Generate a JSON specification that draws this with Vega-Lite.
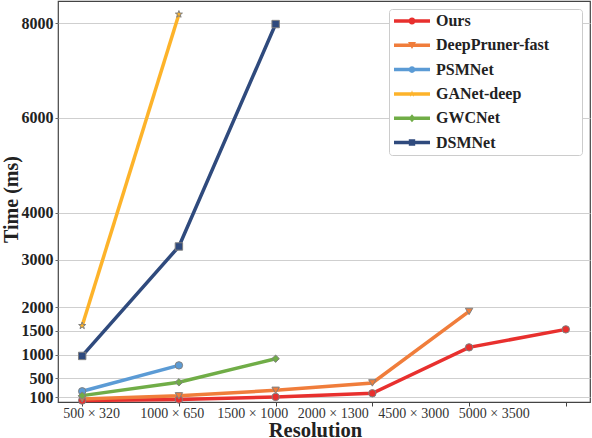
{
  "$schema": "https://vega.github.io/schema/vega-lite/v6.json",
  "width": 532,
  "height": 401,
  "autosize": "none",
  "padding": {"left": 58, "top": 1, "right": 2, "bottom": 36},
  "background": "white",
  "config": {
    "view": {"stroke": "#444444", "strokeWidth": 1.2},
    "font": "Liberation Serif"
  },
  "data": {
    "values": [
      {"model": "Ours", "idx": 0, "ms": 30},
      {"model": "Ours", "idx": 1, "ms": 52},
      {"model": "Ours", "idx": 2, "ms": 107},
      {"model": "Ours", "idx": 3, "ms": 184},
      {"model": "Ours", "idx": 4, "ms": 1154},
      {"model": "Ours", "idx": 5, "ms": 1534},
      {"model": "DeepPruner-fast", "idx": 0, "ms": 65},
      {"model": "DeepPruner-fast", "idx": 1, "ms": 130},
      {"model": "DeepPruner-fast", "idx": 2, "ms": 247},
      {"model": "DeepPruner-fast", "idx": 3, "ms": 403},
      {"model": "DeepPruner-fast", "idx": 4, "ms": 1913},
      {"model": "PSMNet", "idx": 0, "ms": 226},
      {"model": "PSMNet", "idx": 1, "ms": 774},
      {"model": "GANet-deep", "idx": 0, "ms": 1612},
      {"model": "GANet-deep", "idx": 1, "ms": 8190},
      {"model": "GWCNet", "idx": 0, "ms": 135},
      {"model": "GWCNet", "idx": 1, "ms": 416},
      {"model": "GWCNet", "idx": 2, "ms": 915},
      {"model": "DSMNet", "idx": 0, "ms": 973},
      {"model": "DSMNet", "idx": 1, "ms": 3285},
      {"model": "DSMNet", "idx": 2, "ms": 7983}
    ]
  },
  "encoding": {
    "x": {
      "field": "idx",
      "type": "quantitative",
      "scale": {"domain": [-0.25, 5.25], "nice": false, "zero": false},
      "axis": {
        "values": [0, 1, 2, 3, 4, 5],
        "labelExpr": "['500 × 320','1000 × 650','1500 × 1000','2000 × 1300','4500 × 3000','5000 × 3500'][datum.value]",
        "grid": false,
        "domain": false,
        "ticks": true,
        "tickSize": 4,
        "tickColor": "#444444",
        "labelFont": "Liberation Serif",
        "labelFontSize": 14,
        "labelColor": "#333333",
        "labelPadding": 0,
        "labelFlush": false,
        "labelOverlap": false,
        "labelOffset": {"expr": "9 - 16.2*datum.value"},
        "title": "Resolution",
        "titleFont": "Liberation Serif",
        "titleFontSize": 20.5,
        "titleFontWeight": "bold",
        "titleColor": "#222222",
        "titleX": 257,
        "titleY": 34.5,
        "titleBaseline": "alphabetic",
        "titleAlign": "center"
      }
    },
    "y": {
      "field": "ms",
      "type": "quantitative",
      "scale": {"domain": [0, 8470], "nice": false, "zero": false},
      "axis": {
        "values": [100, 500, 1000, 1500, 2000, 3000, 4000, 6000, 8000],
        "format": "d",
        "grid": true,
        "gridColor": "#cfcfcf",
        "gridWidth": 1,
        "domain": false,
        "ticks": true,
        "tickSize": 3,
        "tickColor": "#666666",
        "labelFont": "Liberation Serif",
        "labelFontSize": 16,
        "labelFontWeight": "bold",
        "labelColor": "#222222",
        "labelPadding": 2,
        "labelOverlap": false,
        "title": "Time (ms)",
        "titleFont": "Liberation Serif",
        "titleFontSize": 20,
        "titleFontWeight": "bold",
        "titleColor": "#222222",
        "titleX": -41,
        "titleY": 198,
        "titleAngle": 270,
        "titleAlign": "center",
        "titleBaseline": "alphabetic"
      }
    },
    "color": {
      "field": "model",
      "type": "nominal",
      "scale": {
        "domain": ["Ours", "DeepPruner-fast", "PSMNet", "GANet-deep", "GWCNet", "DSMNet"],
        "range": ["#e8302e", "#f07d3b", "#5b9bd5", "#fdb32a", "#70ad47", "#2f4a7d"]
      }
    }
  },
  "layer": [
    {
      "mark": {"type": "line", "strokeWidth": 3.5, "strokeCap": "butt"},
      "encoding": {
        "detail": {"field": "model"},
        "color": {
          "field": "model",
          "type": "nominal",
          "scale": {
            "domain": ["Ours", "DeepPruner-fast", "PSMNet", "GANet-deep", "GWCNet", "DSMNet"],
            "range": ["#e8302e", "#f07d3b", "#5b9bd5", "#fdb32a", "#70ad47", "#2f4a7d"]
          },
          "legend": {
            "title": null,
            "orient": "top-right",
            "offset": 8,
            "padding": 4,
            "fillColor": "white",
            "strokeColor": "#cccccc",
            "cornerRadius": 3,
            "symbolSize": 256,
            "rowPadding": 8.3,
            "labelOffset": 27,
            "labelFont": "Liberation Serif",
            "labelFontSize": 16,
            "labelFontWeight": "bold",
            "labelColor": "#222222",
            "labelLimit": 300,
            "encode": {
              "labels": {
                "update": {
                  "text": {"signal": "datum.label + '\u00a0\u00a0\u00a0\u00a0\u00a0\u00a0\u00a0\u200b'"}
                }
              },
              "symbols": {
                "update": {
                  "shape": {"signal": "datum.value === 'Ours' ? 'M-0.875,-0.22H3.625V0.22H-0.875Z M1.815,0A0.44,0.44 0 1,1 0.935,0A0.44,0.44 0 1,1 1.815,0Z' : datum.value === 'DeepPruner-fast' ? 'M-0.875,-0.22H3.625V0.22H-0.875Z M0.875,-0.4L1.875,-0.4L1.375,0.45Z' : datum.value === 'PSMNet' ? 'M-0.875,-0.22H3.625V0.22H-0.875Z M1.795,0A0.42,0.42 0 1,1 0.955,0A0.42,0.42 0 1,1 1.795,0Z' : datum.value === 'GANet-deep' ? 'M-0.875,-0.22H3.625V0.22H-0.875Z M1.375,-0.45L1.481,-0.146L1.803,-0.139L1.546,0.056L1.64,0.364L1.375,0.18L1.11,0.364L1.204,0.056L0.947,-0.139L1.269,-0.146Z' : datum.value === 'GWCNet' ? 'M-0.875,-0.22H3.625V0.22H-0.875Z M1.375,-0.5L1.8,0L1.375,0.5L0.95,0Z' : 'M-0.875,-0.22H3.625V0.22H-0.875Z M0.975,-0.4H1.775V0.4H0.975Z'"},
                  "fill": {"scale": "color", "field": "value"},
                  "stroke": {"value": "transparent"},
                  "strokeWidth": {"value": 0},
                  "opacity": {"value": 1}
                }
              }
            }
          }
        }
      }
    },
    {
      "mark": {"type": "point", "filled": true, "size": 55, "stroke": "#808080", "strokeWidth": 1, "opacity": 1},
      "encoding": {
        "color": {
          "field": "model",
          "type": "nominal",
          "scale": {
            "domain": ["Ours", "DeepPruner-fast", "PSMNet", "GANet-deep", "GWCNet", "DSMNet"],
            "range": ["#e8302e", "#f07d3b", "#5b9bd5", "#fdb32a", "#70ad47", "#2f4a7d"]
          },
          "legend": null
        },
        "shape": {
          "condition": [
            {"test": "datum.model === 'Ours'", "value": "circle"},
            {"test": "datum.model === 'DeepPruner-fast'", "value": "triangle-down"},
            {"test": "datum.model === 'PSMNet'", "value": "circle"},
            {"test": "datum.model === 'GANet-deep'", "value": "M0,-1L0.235,-0.324L0.951,-0.309L0.38,0.124L0.588,0.809L0,0.4L-0.588,0.809L-0.38,0.124L-0.951,-0.309L-0.235,-0.324Z"},
            {"test": "datum.model === 'GWCNet'", "value": "diamond"}
          ],
          "value": "square"
        }
      }
    }
  ]
}
